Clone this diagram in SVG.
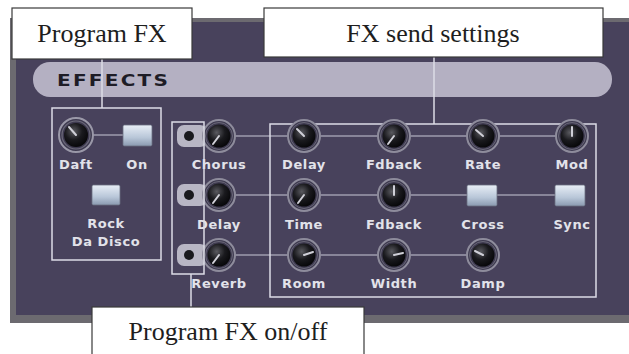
<svg xmlns="http://www.w3.org/2000/svg" width="629" height="354" viewBox="0 0 629 354">
<defs>
<radialGradient id="kg" cx="0.4" cy="0.35" r="0.7">
<stop offset="0" stop-color="#5a5a60"/>
<stop offset="0.5" stop-color="#1a1a1e"/>
<stop offset="1" stop-color="#050507"/>
</radialGradient>
<linearGradient id="bg" x1="0" y1="0" x2="0" y2="1">
<stop offset="0" stop-color="#e8eef6"/>
<stop offset="0.6" stop-color="#b8c6d8"/>
<stop offset="1" stop-color="#8a9ab0"/>
</linearGradient>
<g id="knob">
<circle r="16" fill="#3e3a50" stroke="#8e8c9c" stroke-width="2"/>
<circle r="13.5" fill="none" stroke="#6a6878" stroke-width="1"/>
<circle r="11.5" fill="url(#kg)"/>
</g>
<g id="bknob">
<circle r="17" fill="#3e3a50" stroke="#9a98a8" stroke-width="2"/>
<circle r="14" fill="none" stroke="#6c6a7a" stroke-width="1.2"/>
<circle r="12" fill="url(#kg)"/>
</g>
</defs>
<style>
.frame{fill:none;stroke:#dcdce6;stroke-width:1.5}
.conn{fill:none;stroke:#dcdce6;stroke-width:1.5}
.link{stroke:#9e9cae;stroke-width:1.5}
.lbl{font-family:"DejaVu Sans",sans-serif;font-weight:bold;font-size:13px;fill:#e2e2ea;text-anchor:middle;letter-spacing:0.6px}
.ptr{stroke:#d0d0d8;stroke-width:2;stroke-linecap:round}
.btn{fill:url(#bg);stroke:#6a7080;stroke-width:0.8}
.callout{fill:#ffffff;stroke:#3a3a3a;stroke-width:1.2}
.ctext{font-family:"Liberation Serif",serif;font-size:26px;fill:#1e1e1e;text-anchor:middle}
.sel{fill:#b8b6c4}
</style>
<rect width="629" height="354" fill="#ffffff"/>
<g id="panel">
<rect x="10" y="18" width="619" height="305" fill="#6c6a70"/>
<rect x="16" y="22" width="613" height="293" fill="#48425c"/>
<rect x="33" y="62" width="579" height="35" rx="17" fill="#b4b0c2"/>
<text transform="translate(57,86) scale(1.25,1)" font-family="DejaVu Sans,sans-serif" font-weight="bold" font-size="16" letter-spacing="1.8" fill="#1e1c26">EFFECTS</text>
</g>
<g id="connectors">
<line class="link" x1="76" y1="135" x2="123" y2="135"/>
<line class="link" x1="219" y1="136" x2="572" y2="136"/>
<line class="link" x1="219" y1="195" x2="555" y2="195"/>
<line class="link" x1="219" y1="255" x2="483" y2="255"/>
<rect class="frame" x="52" y="108" width="109" height="152"/>
<rect class="frame" x="270" y="124" width="326" height="173"/>
<line class="conn" x1="102" y1="59" x2="102" y2="108"/>
<line class="conn" x1="434" y1="57" x2="434" y2="124"/>
<line class="conn" x1="191" y1="274" x2="191" y2="307"/>
</g>
<g id="program-fx">
<use href="#bknob" x="76" y="135"/>
<line class="ptr" x1="76" y1="135" x2="69" y2="127"/>
<text class="lbl" x="76" y="169">Daft</text>
<rect class="btn" x="123" y="125" width="29" height="21" rx="1.5"/>
<text class="lbl" x="137" y="169">On</text>
<rect class="btn" x="92" y="185" width="28" height="20" rx="1.5"/>
<text class="lbl" x="106" y="228">Rock</text>
<text class="lbl" x="106" y="246">Da Disco</text>
</g>
<g id="program-sends">
<rect class="sel" x="177" y="125" width="30" height="22" rx="7"/>
<circle cx="189" cy="136" r="5" fill="#1a1a1e"/>
<use href="#knob" x="219" y="136"/>
<line class="ptr" x1="219" y1="136" x2="213" y2="144"/>
<text class="lbl" x="219" y="169">Chorus</text>
<rect class="sel" x="177" y="184" width="30" height="22" rx="7"/>
<circle cx="189" cy="195" r="5" fill="#1a1a1e"/>
<use href="#knob" x="219" y="195"/>
<line class="ptr" x1="219" y1="195" x2="213" y2="203"/>
<text class="lbl" x="219" y="229">Delay</text>
<rect class="sel" x="177" y="244" width="30" height="22" rx="7"/>
<circle cx="189" cy="255" r="5" fill="#1a1a1e"/>
<use href="#knob" x="219" y="255"/>
<line class="ptr" x1="219" y1="255" x2="213" y2="263"/>
<text class="lbl" x="219" y="288">Reverb</text>
<rect class="frame" x="172" y="122" width="32" height="152"/>
</g>
<g id="fx-send">
<use href="#knob" x="304" y="136"/>
<line class="ptr" x1="304" y1="136" x2="297" y2="129"/>
<text class="lbl" x="304" y="169">Delay</text>
<use href="#knob" x="394" y="136"/>
<line class="ptr" x1="394" y1="136" x2="388" y2="144"/>
<text class="lbl" x="394" y="169">Fdback</text>
<use href="#knob" x="483" y="136"/>
<line class="ptr" x1="483" y1="136" x2="476" y2="130"/>
<text class="lbl" x="483" y="169">Rate</text>
<use href="#knob" x="572" y="136"/>
<line class="ptr" x1="572" y1="136" x2="572" y2="127"/>
<text class="lbl" x="572" y="169">Mod</text>
<use href="#knob" x="304" y="195"/>
<line class="ptr" x1="304" y1="195" x2="298" y2="203"/>
<text class="lbl" x="304" y="229">Time</text>
<use href="#knob" x="394" y="195"/>
<line class="ptr" x1="394" y1="195" x2="394" y2="186"/>
<text class="lbl" x="394" y="229">Fdback</text>
<rect class="btn" x="467" y="185" width="30" height="21" rx="1.5"/>
<text class="lbl" x="483" y="229">Cross</text>
<rect class="btn" x="555" y="185" width="30" height="21" rx="1.5"/>
<text class="lbl" x="572" y="229">Sync</text>
<use href="#knob" x="304" y="255"/>
<line class="ptr" x1="304" y1="255" x2="313" y2="252"/>
<text class="lbl" x="304" y="288">Room</text>
<use href="#knob" x="394" y="255"/>
<line class="ptr" x1="394" y1="255" x2="403" y2="253"/>
<text class="lbl" x="394" y="288">Width</text>
<use href="#knob" x="483" y="255"/>
<line class="ptr" x1="483" y1="255" x2="475" y2="251"/>
<text class="lbl" x="483" y="288">Damp</text>
</g>
<g id="callout-program-fx">
<rect class="callout" x="12" y="8" width="180" height="51"/>
<text class="ctext" x="102" y="42">Program FX</text>
</g>
<g id="callout-fx-send">
<rect class="callout" x="264" y="8" width="339" height="49"/>
<text class="ctext" x="433" y="42">FX send settings</text>
</g>
<g id="callout-onoff">
<rect class="callout" x="92" y="307" width="272" height="52"/>
<text class="ctext" x="228" y="340">Program FX on/off</text>
</g>
</svg>
